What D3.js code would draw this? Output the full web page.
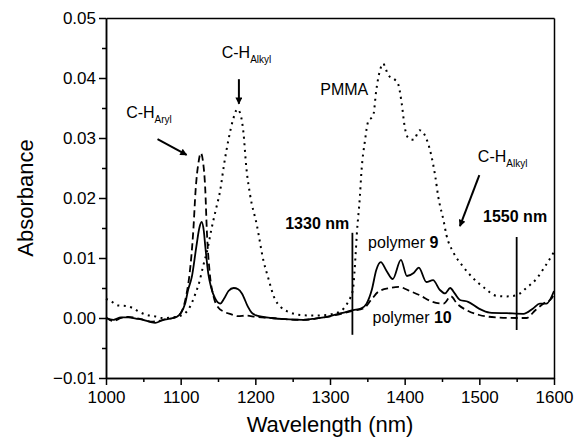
<!DOCTYPE html>
<meta charset="utf-8">
<style>
body { margin: 0; background: #fff; }
svg text { font-family: Arial, "Liberation Sans", sans-serif; fill: #000; }
.axis path, .axis line { stroke: #000; stroke-width: 1.5px; }
.curve { fill: none; stroke: #000; }
</style>
<body>
<div id="chart"></div>
<script src="https://cdn.jsdelivr.net/npm/d3@7"></script>
<script>
// tick values
var xMajor = [1000, 1100, 1200, 1300, 1400, 1500, 1600];
var xMinor = [1050, 1150, 1250, 1350, 1450, 1550];
var yMajor = [-0.01, 0.00, 0.01, 0.02, 0.03, 0.04, 0.05];
var yMinor = [-0.005, 0.005, 0.015, 0.025, 0.035, 0.045];

// PMMA (dotted)
var pmma = [
  [1000,0.0032],[1008,0.0027],[1016,0.0021],[1027,0.002],[1035,0.0017],[1045,0.001],
  [1055,0.0005],[1065,0.0003],[1075,0.0],[1090,0.0001],[1100,0.0004],[1106,0.0008],
  [1113,0.002],[1119,0.0038],[1125,0.006],[1130,0.0086],[1136,0.0115],[1141,0.0147],
  [1147,0.018],[1153,0.0213],[1158,0.0255],[1164,0.0297],[1170,0.0330],[1176,0.0348],
  [1180,0.034],[1184,0.031],[1188,0.025],[1193,0.0205],[1202,0.0155],[1211,0.0095],
  [1217,0.0068],[1225,0.0035],[1235,0.0017],[1245,0.001],[1260,0.0005],[1280,0.0004],
  [1300,0.0006],[1315,0.0012],[1322,0.0022],[1327,0.0033],[1331,0.005],[1334,0.010],
  [1336,0.0141],[1340,0.0202],[1342,0.0242],[1347,0.0297],[1351,0.0327],[1358,0.0338],
  [1362,0.038],[1367,0.0413],[1371,0.0424],[1378,0.0405],[1387,0.0397],[1391,0.0391],
  [1396,0.0358],[1400,0.0319],[1405,0.030],[1412,0.0297],[1420,0.0313],[1428,0.0302],
  [1436,0.0269],[1441,0.0236],[1445,0.0202],[1452,0.0163],[1456,0.0138],[1465,0.011],
  [1478,0.0086],[1492,0.0066],[1507,0.005],[1523,0.0037],[1537,0.0036],[1550,0.0038],
  [1563,0.005],[1577,0.0066],[1588,0.0086],[1600,0.011]
];

// polymer 9 (solid)
var polymer9 = [
  [1000,0],[1010,-0.0003],[1020,0.0001],[1030,0.0001],[1040,-0.0001],[1050,-0.0003],
  [1060,-0.0007],[1066,-0.0008],[1075,-0.0004],[1090,0.0],[1095,0.0002],[1100,0.0008],
  [1106,0.0024],[1110,0.0047],[1115,0.0069],[1121,0.0119],[1125,0.015],[1128,0.016],
  [1131,0.0145],[1133,0.0119],[1137,0.0074],[1141,0.005],[1146,0.0033],[1153,0.0024],
  [1158,0.0032],[1164,0.0045],[1171,0.005],[1177,0.0048],[1182,0.0041],[1190,0.0019],
  [1195,0.0009],[1202,0.0004],[1222,0.0],[1240,-0.0002],[1264,-0.0003],[1280,-0.0001],
  [1296,0.0002],[1315,0.0008],[1331,0.0013],[1342,0.0016],[1349,0.0024],[1356,0.0047],
  [1362,0.008],[1368,0.0093],[1376,0.0078],[1384,0.0065],[1395,0.0097],[1403,0.007],
  [1412,0.0075],[1419,0.0084],[1429,0.006],[1438,0.0063],[1447,0.0047],[1454,0.0041],
  [1461,0.005],[1467,0.0041],[1474,0.003],[1485,0.0027],[1499,0.0016],[1514,0.0009],
  [1537,0.0008],[1559,0.0007],[1572,0.0016],[1581,0.0024],[1590,0.0024],[1600,0.0045]
];

// polymer 10 (dashed)
var polymer10 = [
  [1000,0.0001],[1010,-0.0005],[1020,0.0],[1030,0.0002],[1040,0],[1050,-0.0003],
  [1060,-0.0006],[1070,-0.0005],[1080,-0.0002],[1090,0.0],[1100,0.0008],[1108,0.0041],
  [1112,0.0074],[1117,0.0147],[1120,0.0213],[1124,0.026],[1127,0.0275],[1130,0.026],
  [1133,0.0213],[1135,0.0147],[1139,0.0074],[1144,0.0036],[1150,0.0018],[1159,0.001],
  [1168,0.0006],[1177,0.0003],[1188,0.0004],[1200,0.0002],[1222,0],[1240,-0.0002],
  [1264,-0.0003],[1296,0.0002],[1331,0.0012],[1345,0.0016],[1355,0.003],[1365,0.0044],
  [1380,0.005],[1392,0.0052],[1405,0.0046],[1420,0.0038],[1437,0.0027],[1452,0.0024],
  [1462,0.0036],[1470,0.0024],[1483,0.0013],[1500,0.0005],[1523,0.0001],[1550,0],
  [1563,0],[1575,0.0013],[1586,0.0024],[1597,0.0033],[1600,0.004]
];

// marker lines at the two wavelengths: [wavelength, top, bottom]
var markers = [[1330, 0.0142, -0.0028], [1550, 0.0135, -0.002]];

// text annotations: [wavelength, absorbance, main, subscript, bold part]
var notes = [
  [1027, 0.0333, "C-H", "Aryl", ""],
  [1155, 0.0433, "C-H", "Alkyl", ""],
  [1498, 0.0260, "C-H", "Alkyl", ""],
  [1287, 0.0372, "PMMA", "", ""],
  [1240, 0.0148, "", "", "1330 nm"],
  [1505, 0.0160, "", "", "1550 nm"],
  [1351, 0.0117, "polymer ", "", "9"],
  [1357, -0.0008, "polymer ", "", "10"]
];

// arrows: [x1, y1, x2, y2] in data units
var arrows = [
  [1069, 0.0298, 1108, 0.0272],
  [1178, 0.0398, 1178, 0.0357],
  [1500, 0.0238, 1474, 0.0153]
];

var W = 574, H = 441;
var margin = {top: 18, right: 20, bottom: 63, left: 106};
var width = W - margin.left - margin.right;
var height = H - margin.top - margin.bottom;

var x = d3.scaleLinear().domain([1000, 1600]).range([0, width]);
var y = d3.scaleLinear().domain([-0.01, 0.05]).range([height, 0]);

var svg = d3.select("#chart").append("svg")
    .attr("width", W)
    .attr("height", H);

var defs = svg.append("defs");
defs.append("marker")
    .attr("id", "head")
    .attr("viewBox", "0 0 10 10")
    .attr("refX", 9).attr("refY", 5)
    .attr("markerWidth", 9).attr("markerHeight", 7)
    .attr("markerUnits", "userSpaceOnUse")
    .attr("orient", "auto")
  .append("path")
    .attr("d", "M0,0 L10,5 L0,10 Z")
    .attr("fill", "#000");

var g = svg.append("g")
    .attr("transform", "translate(" + margin.left + "," + margin.top + ")");

// frame top and right
g.append("g").attr("class", "axis")
    .call(d3.axisTop(x).tickValues([]).tickSizeOuter(0));
g.append("g").attr("class", "axis")
    .attr("transform", "translate(" + width + ",0)")
    .call(d3.axisRight(y).tickValues([]).tickSizeOuter(0));

// x axis
g.append("g").attr("class", "axis")
    .attr("transform", "translate(0," + height + ")")
    .call(d3.axisBottom(x).tickValues(xMinor).tickSize(4).tickSizeOuter(0).tickFormat(""));
var xAx = g.append("g").attr("class", "axis")
    .attr("transform", "translate(0," + height + ")")
    .call(d3.axisBottom(x).tickValues(xMajor).tickSize(7).tickSizeOuter(0).tickPadding(6).tickFormat(d3.format("d")));
xAx.selectAll("text").style("font-size", "17px");

// y axis
g.append("g").attr("class", "axis")
    .call(d3.axisLeft(y).tickValues(yMinor).tickSize(4).tickSizeOuter(0).tickFormat(""));
var yAx = g.append("g").attr("class", "axis")
    .call(d3.axisLeft(y).tickValues(yMajor).tickSize(7).tickSizeOuter(0).tickPadding(3).tickFormat(d3.format(".2f")));
yAx.selectAll("text").style("font-size", "17px");
g.selectAll(".axis .domain").attr("stroke-width", 1.8);

// axis titles
svg.append("text")
    .attr("x", margin.left + width / 2)
    .attr("y", 432)
    .attr("text-anchor", "middle")
    .style("font-size", "22px")
    .text("Wavelength (nm)");
svg.append("text")
    .attr("transform", "translate(33," + (margin.top + height / 2) + ") rotate(-90)")
    .attr("text-anchor", "middle")
    .style("font-size", "22px")
    .text("Absorbance");

// curves
var line = d3.line()
    .x(function(d) { return x(d[0]); })
    .y(function(d) { return y(d[1]); })
    .curve(d3.curveMonotoneX);

g.append("path").datum(pmma)
    .attr("class", "curve")
    .attr("stroke-width", 2)
    .attr("stroke-dasharray", "2,4.5")
    .attr("d", line);
g.append("path").datum(polymer10)
    .attr("class", "curve")
    .attr("stroke-width", 1.8)
    .attr("stroke-dasharray", "7,4")
    .attr("d", line);
g.append("path").datum(polymer9)
    .attr("class", "curve")
    .attr("stroke-width", 1.8)
    .attr("d", line);

// wavelength markers
g.selectAll(".mark")
    .data(markers)
    .enter().append("line")
    .attr("class", "mark")
    .attr("x1", function(d) { return x(d[0]); })
    .attr("x2", function(d) { return x(d[0]); })
    .attr("y1", function(d) { return y(d[1]); })
    .attr("y2", function(d) { return y(d[2]); })
    .attr("stroke", "#000")
    .attr("stroke-width", 1.8);

// arrows
g.selectAll(".arrow")
    .data(arrows)
    .enter().append("line")
    .attr("class", "arrow")
    .attr("x1", function(d) { return x(d[0]); })
    .attr("y1", function(d) { return y(d[1]); })
    .attr("x2", function(d) { return x(d[2]); })
    .attr("y2", function(d) { return y(d[3]); })
    .attr("stroke", "#000")
    .attr("stroke-width", 2)
    .attr("marker-end", "url(#head)");

// annotation texts
var t = g.selectAll(".note")
    .data(notes)
    .enter().append("text")
    .attr("class", "note")
    .attr("x", function(d) { return x(d[0]); })
    .attr("y", function(d) { return y(d[1]); })
    .style("font-size", "16px");
t.each(function(d) {
  var el = d3.select(this);
  if (d[2]) el.append("tspan").text(d[2]);
  if (d[3]) el.append("tspan").attr("dy", 5).style("font-size", "10px").text(d[3]);
  if (d[4]) el.append("tspan").style("font-weight", "bold").text(d[4]);
});
</script>
</body>
